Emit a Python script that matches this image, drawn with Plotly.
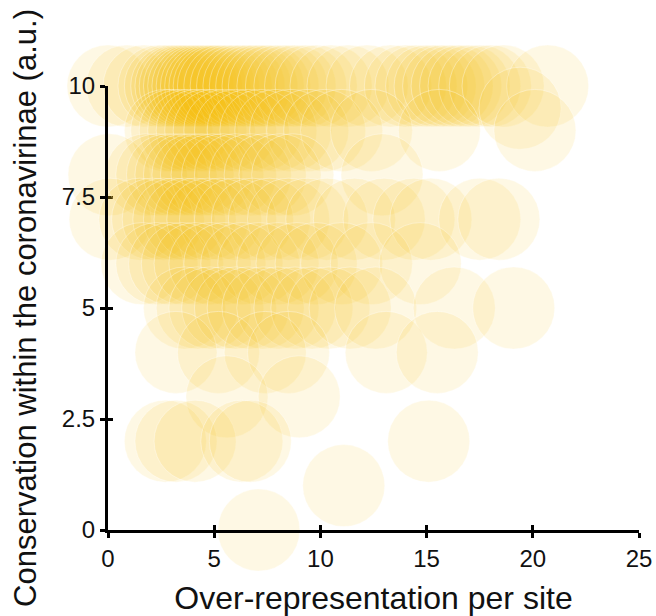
import plotly.graph_objects as go

# Conservation levels (y) and over-representation values (x) per row
rows = {
    10: [0.0, 0.9, 1.7, 2.4, 2.7, 3.0, 3.2, 3.4, 3.6, 3.8, 4.0, 4.2, 4.4, 4.6, 4.8,
         5.0, 5.2, 5.5, 5.8, 6.1, 6.4, 6.7, 7.0, 7.3, 7.6, 8.0, 8.4, 8.8, 9.3, 9.8,
         10.5, 11.3, 12.2, 13.3, 14.0, 14.5, 15.0, 15.4, 15.8, 16.2, 16.6, 17.0, 17.5,
         18.0, 18.6, 20.7],
    9.5: [19.4],
    9: [2.7, 3.0, 3.4, 3.8, 4.2, 4.6, 5.0, 5.5, 6.0, 6.6, 7.2, 7.9, 8.6, 9.4, 10.2,
        11.0, 12.4, 15.6, 20.1],
    8: [0.05, 1.8, 2.3, 2.8, 3.2, 3.6, 4.0, 4.4, 4.9, 5.4, 6.0, 6.7, 7.4, 8.1, 8.7, 12.9],
    7: [0.1, 1.5, 2.1, 2.6, 3.1, 3.6, 4.1, 4.7, 5.3, 6.0, 6.8, 7.6, 8.5, 9.4, 10.3,
        11.6, 13.0, 14.4, 15.2, 17.5, 18.4],
    6: [1.6, 2.3, 2.9, 3.5, 4.1, 4.8, 5.5, 6.3, 7.1, 8.0, 8.9, 9.8, 11.0, 12.4, 14.7],
    5: [3.6, 4.2, 4.8, 5.4, 6.0, 6.6, 7.3, 8.0, 8.8, 9.6, 10.4, 11.4, 12.6, 16.3, 19.1],
    4: [3.2, 5.2, 7.4, 8.5, 13.1, 15.5],
    3: [5.6, 9.0],
    2: [2.7, 3.2, 4.1, 6.3, 6.7, 15.1],
    1: [11.1],
    0: [7.1],
}

x_vals = []
y_vals = []
for yv, xs in rows.items():
    for xv in xs:
        x_vals.append(xv)
        y_vals.append(yv)

x_ticks = [0, 5, 10, 15, 20, 25]
y_ticks = [0, 2.5, 5, 7.5, 10]
y_ticktext = ["0", "2.5", "5", "7.5", "10"]

FONT = "Liberation Sans, Arial, Helvetica, sans-serif"

fig = go.Figure()
# empty trace to keep main axes drawn
fig.add_trace(go.Scatter(x=[], y=[], xaxis="x", yaxis="y", showlegend=False, hoverinfo="skip"))
fig.add_trace(go.Scatter(
    x=x_vals, y=y_vals, mode="markers", xaxis="x2", yaxis="y2",
    cliponaxis=False, showlegend=False,
    marker=dict(size=82, color="rgba(245,189,12,0.11)",
                line=dict(color="rgba(255,255,255,0.5)", width=0.7)),
))

axis_common = dict(showgrid=False, zeroline=False)
fig.update_layout(
    width=656, height=616,
    margin=dict(l=108, r=17, t=86, b=86),
    plot_bgcolor="white", paper_bgcolor="white",
    font=dict(family=FONT, color="#111", size=24),
    xaxis=dict(range=[0, 25], tickvals=x_ticks, ticks="outside", ticklen=5, tickwidth=2.5,
               tickcolor="black", showline=True, linecolor="black", linewidth=3,
               tickfont=dict(size=24), title=dict(text="Over-representation per site",
               font=dict(size=32), standoff=17), automargin=False, **axis_common),
    yaxis=dict(range=[0, 10], tickvals=y_ticks, ticktext=y_ticktext, ticks="outside",
               ticklen=5, tickwidth=2.5, tickcolor="black", showline=True,
               linecolor="black", linewidth=3, tickfont=dict(size=24),
               title=dict(text="Conservation within the coronavirinae (a.u.)",
                          font=dict(size=31), standoff=16), automargin=False, **axis_common),
    xaxis2=dict(range=[0, 25], overlaying="x", anchor="y2", side="bottom",
                tickvals=x_ticks, ticks="inside", ticklen=5, tickwidth=2.5,
                tickcolor="black", showticklabels=False, showline=False,
                layer="below traces", **axis_common),
    yaxis2=dict(range=[0, 10], overlaying="y", anchor="x2", side="left",
                tickvals=y_ticks, ticks="inside", ticklen=5, tickwidth=2.5,
                tickcolor="black", showticklabels=False, showline=False,
                layer="below traces", **axis_common),
)

fig.write_html("out.html")
